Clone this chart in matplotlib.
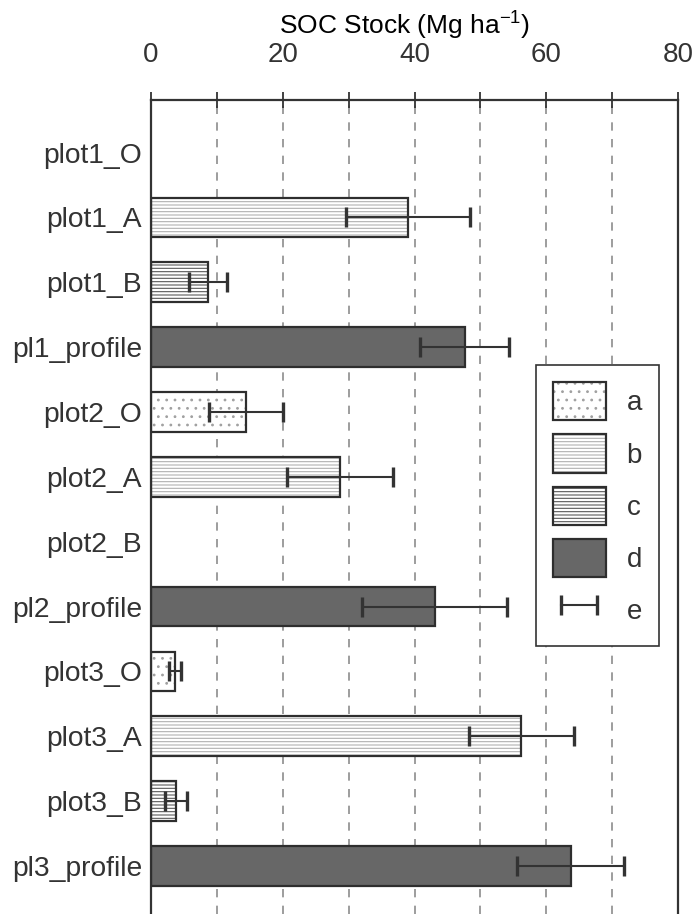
import numpy as np
import matplotlib
matplotlib.use("Agg")
import matplotlib.pyplot as plt
from matplotlib.patches import Patch
from matplotlib.lines import Line2D
from matplotlib.colors import to_rgba

plt.rcParams['font.family'] = ['Liberation Sans', 'DejaVu Sans']
plt.rcParams['mathtext.fontset'] = 'custom'
plt.rcParams['mathtext.rm'] = 'Liberation Sans'
plt.rcParams['mathtext.it'] = 'Liberation Sans'
plt.rcParams['hatch.linewidth'] = 0.8
plt.rcParams['text.color'] = '#333333'
plt.rcParams['xtick.labelcolor'] = '#333333'
plt.rcParams['ytick.labelcolor'] = '#333333'

# data
labels = ["plot1_O", "plot1_A", "plot1_B", "pl1_profile",
          "plot2_O", "plot2_A", "plot2_B", "pl2_profile",
          "plot3_O", "plot3_A", "plot3_B", "pl3_profile"]
stock = [0, 39.0, 8.7, 47.6, 14.4, 28.7, 0, 43.1, 3.6, 56.2, 3.8, 63.7]
err = [0, 9.4, 2.9, 6.7, 5.6, 8.0, 0, 11.0, 0.9, 8.0, 1.6, 8.1]
kind = ["a", "b", "c", "d", "a", "b", "c", "d", "a", "b", "c", "d"]

legend_labels = ["a", "b", "c", "d", "e"]

# fill style per horizon kind
styles = {
    "a": dict(face="white", hatch="..", hcolor="#a0a0a0"),
    "b": dict(face="white", hatch="-----", hcolor="#b0b0b0"),
    "c": dict(face="white", hatch="-----", hcolor="#5a5a5a"),
    "d": dict(face="#676767", hatch=None, hcolor="#676767"),
}
edge = "#2e2e2e"

fig = plt.figure(figsize=(6.99, 9.14), dpi=100)
ax = fig.add_axes([0.216, 0.0, 0.754, 0.8906])

y = np.arange(len(labels))
h = 0.61
for yi, v, k in zip(y, stock, kind):
    s = styles[k]
    if v <= 0:
        continue
    # hatch layer, then outline on top
    ax.barh(yi, v, height=h, color=s["face"], edgecolor=s["hcolor"],
            hatch=s["hatch"], linewidth=0, zorder=2)
    ax.barh(yi, v, height=h, fill=False, edgecolor=edge, linewidth=1.6, zorder=3)

stock_a = np.array(stock)
err_a = np.array(err)
m = err_a > 0
ax.errorbar(stock_a[m], y[m], xerr=err_a[m], fmt="none", ecolor="#333333",
            elinewidth=1.5, capsize=7.2, capthick=2.4, zorder=4)

ax.set_xlim(0, 80)
ax.set_ylim(11.74, -0.81)
ax.set_yticks(y)
ax.set_yticklabels(labels, fontsize=20.3)
ax.tick_params(axis="y", length=0, pad=6.5)

ax.xaxis.tick_top()
ax.set_xticks([0, 20, 40, 60, 80])
ax.set_xticks([10, 30, 50, 70], minor=True)
ax.tick_params(axis="x", which="both", direction="inout", length=11.5, width=1.3,
               color="#333333", labelsize=20, pad=17)
ax.set_xlabel(r"SOC Stock (Mg ha$^{\mathregular{-1}}$)", fontsize=19, va="center")
ax.xaxis.set_label_coords(0.482, 1.091)

for gx in [10, 20, 30, 40, 50, 60, 70]:
    ax.axvline(gx, color="#8c8c8c", linestyle=(0, (5, 5)), linewidth=1.2, zorder=1)

for sp in ["top", "left", "right"]:
    ax.spines[sp].set_color("#333333")
    ax.spines[sp].set_linewidth(1.6)
ax.spines["bottom"].set_visible(False)

handles = []
for k in ["a", "b", "c", "d"]:
    s = styles[k]
    p = Patch(facecolor=s["face"], edgecolor=edge, hatch=s["hatch"], linewidth=1.6)
    p._hatch_color = to_rgba(s["hcolor"])
    handles.append(p)
handles.append(Line2D([0], [0], color="#333333", linewidth=1.5, marker="|",
                      markersize=15, markeredgewidth=2.4))
leg = ax.legend(handles, legend_labels, loc="upper left", bbox_to_anchor=(0.731, 0.674),
                borderaxespad=0, fontsize=20, frameon=True, fancybox=False,
                edgecolor="#333333", framealpha=1, numpoints=2,
                handlelength=1.9, handleheight=1.75, labelspacing=0.5,
                handletextpad=0.75, borderpad=0.6)
leg.get_frame().set_linewidth(1.2)
for t in leg.get_texts():
    t.set_color("#333333")

fig.savefig("out.png", dpi=100)
